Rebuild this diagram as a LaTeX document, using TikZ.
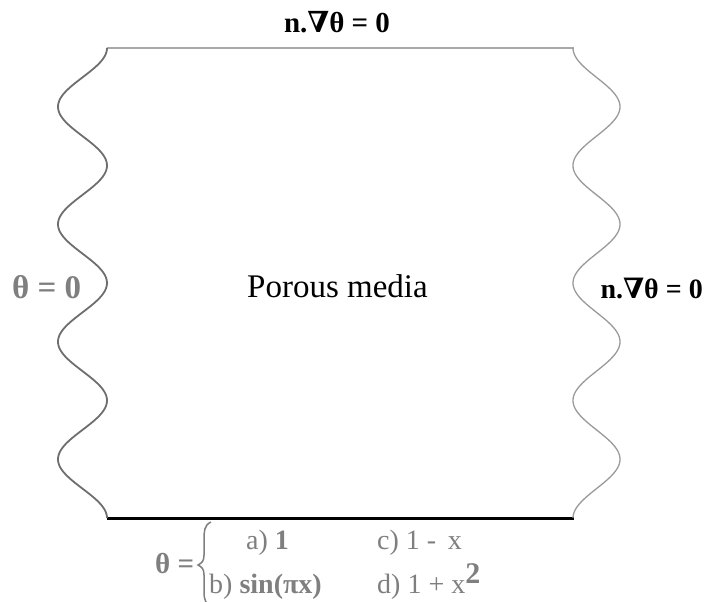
\documentclass[tikz,border=0pt]{standalone}
\usepackage{fontspec}
\setmainfont{Liberation Serif}
\newfontfamily\dvs{DejaVu Serif}
\definecolor{labgray}{HTML}{7F7F7F}
\definecolor{lwave}{HTML}{6E6E6E}
\definecolor{rwave}{HTML}{9A9A9A}
\definecolor{tline}{HTML}{A8A8A8}
\tikzset{
  bigbold/.style={inner sep=0pt, font=\fontsize{29}{31}\selectfont\bfseries},
  smalltxt/.style={inner sep=0pt, anchor=base west, text=labgray, font=\fontsize{28}{30}\selectfont},
  topline/.style={draw=tline, line width=1.4pt},
  bottomline/.style={draw=black, line width=3pt},
  leftwave/.style={draw=lwave, line width=1.8pt},
  rightwave/.style={draw=rwave, line width=1.3pt},
  bracestyle/.style={draw=labgray, line width=1.5pt}
}
\begin{document}
\begin{tikzpicture}[x=1pt,y=-1pt]
\useasboundingbox (0,0) rectangle (705,602);
\coordinate (TL) at (107,48);
\coordinate (TR) at (574,48);
\coordinate (BL) at (107,518);
\coordinate (BR) at (574,518);
\draw[topline] (TL) -- (TR);
\draw[bottomline] (BL) -- (BR);
\draw[leftwave] plot[domain=48:518, samples=300, smooth, variable=\t] ({82.5+24.5*cos((\t-48)*3.06383)},\t);
\draw[rightwave] plot[domain=48:518, samples=300, smooth, variable=\t] ({596.5-23.5*cos((\t-48)*3.06383)},\t);
\node[bigbold] (toplab) at (337,22) {n.{\dvs ∇}θ = 0};
\node[bigbold, anchor=east, font=\fontsize{28}{30}\selectfont\bfseries] (rightlab) at (703,288) {n.{\dvs ∇}θ = 0};
\node[bigbold, anchor=west, text=labgray, font=\fontsize{33}{35}\selectfont\bfseries] (leftlab) at (12,287) {θ = 0};
\node[inner sep=0pt, anchor=base, font=\fontsize{33}{36}\selectfont] (porous) at (337.5,297) {Porous media};
\node[smalltxt, font=\fontsize{29}{31}\selectfont\bfseries] (thetaeq) at (155,573) {θ =};
\draw[bracestyle] (211,522) .. controls (204,525) and (204,532) .. (204,540)
  -- (204,555) .. controls (204,561) and (202,563) .. (198,565)
  .. controls (202,567) and (204,569) .. (204,575) -- (204,592)
  .. controls (204,600) and (206,604) .. (211,607);
\node[smalltxt] (ia) at (246,549) {a) \textbf{1}};
\node[smalltxt] (ib) at (209,593) {b) \textbf{sin(πx)}};
\node[smalltxt] (ic) at (377,549) {c) 1 - \,x};
\node[smalltxt] (id) at (377,593) {d) 1 + x\textsuperscript{\bfseries\fontsize{30}{30}\selectfont 2}};
\end{tikzpicture}
\end{document}
